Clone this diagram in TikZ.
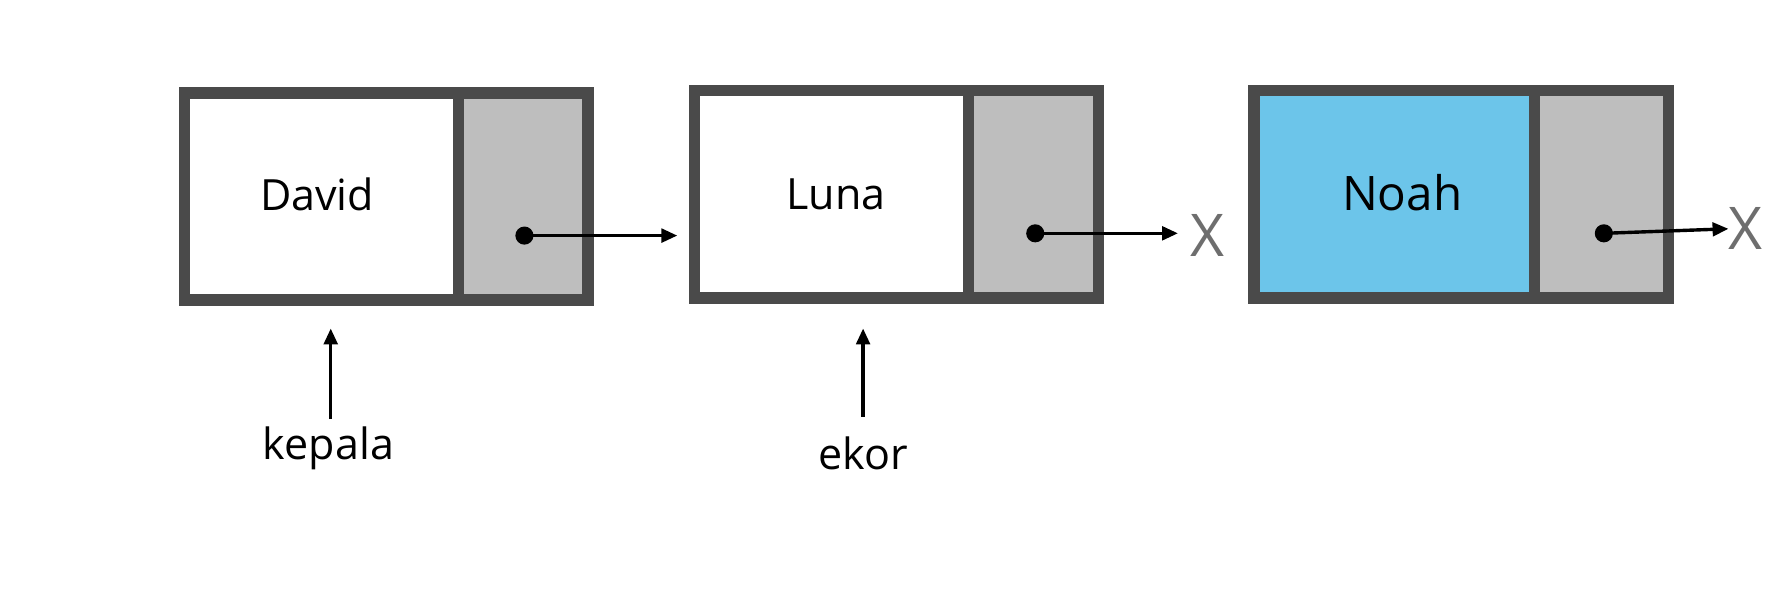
\documentclass[tikz,border=0pt]{standalone}
\usepackage{fontspec}
\setmainfont{Open Sans}
\usetikzlibrary{arrows.meta}
\definecolor{bord}{HTML}{4A4A4A}
\definecolor{cell}{HTML}{BEBEBE}
\definecolor{sky}{HTML}{6CC5EA}
\begin{document}
\begin{tikzpicture}[x=0.5pt,y=-0.5pt,
  outer/.style={draw=bord,line width=5pt},
  divl/.style={draw=bord,line width=5pt},
  ptr/.style={line width=1.5pt,-{Triangle[length=7pt,width=6pt]}},
  lbl/.style={font=\fontsize{19}{22}\selectfont},
  nul/.style={font=\fontsize{26}{28}\selectfont,text=bord!80}]
\useasboundingbox (0,0) rectangle (1568,523);
% box 1
\fill[white] (163,82) rectangle (405,265);
\fill[cell] (405,82) rectangle (519,265);
\draw[outer] (163,82) rectangle (519,265);
\draw[divl] (405,82) -- (405,265);
% box 2
\fill[white] (613,80) rectangle (855,263);
\fill[cell] (855,80) rectangle (970,263);
\draw[outer] (613,80) rectangle (970,263);
\draw[divl] (855,80) -- (855,263);
% box 3
\fill[sky] (1107,80) rectangle (1355,263);
\fill[cell] (1355,80) rectangle (1473,263);
\draw[outer] (1107,80) rectangle (1473,263);
\draw[divl] (1355,80) -- (1355,263);
\node[lbl] (n1) at (280,172) {David};
\node[lbl] (n2) at (738,172) {Luna};
\node[lbl,font=\fontsize{21}{24}\selectfont] (n3) at (1238,170) {Noah};
\coordinate (p1) at (463,208);
\coordinate (p2) at (914,206);
\coordinate (p3) at (1416,206);
\fill (p1) circle (4pt); \fill (p2) circle (4pt); \fill (p3) circle (4pt);
\coordinate (t1) at (598,208);
\node[nul] (x1) at (1066,208) {X};
\node[nul,anchor=west,inner sep=0pt] (x2) at (1526,202) {X};
\draw[ptr] (p1) -- (t1);
\draw[ptr] (p2) -- (1040,206);
\draw[ptr] (p3) -- (x2.west);
\node[lbl] (k) at (290,396) {kepala};
\node[lbl] (e) at (762,400) {ekor};
\coordinate (k2) at (292,290);
\coordinate (e2) at (762,290);
\draw[ptr] (292,370) -- (k2);
\draw[ptr] (762,368) -- (e2);
\end{tikzpicture}
\end{document}
